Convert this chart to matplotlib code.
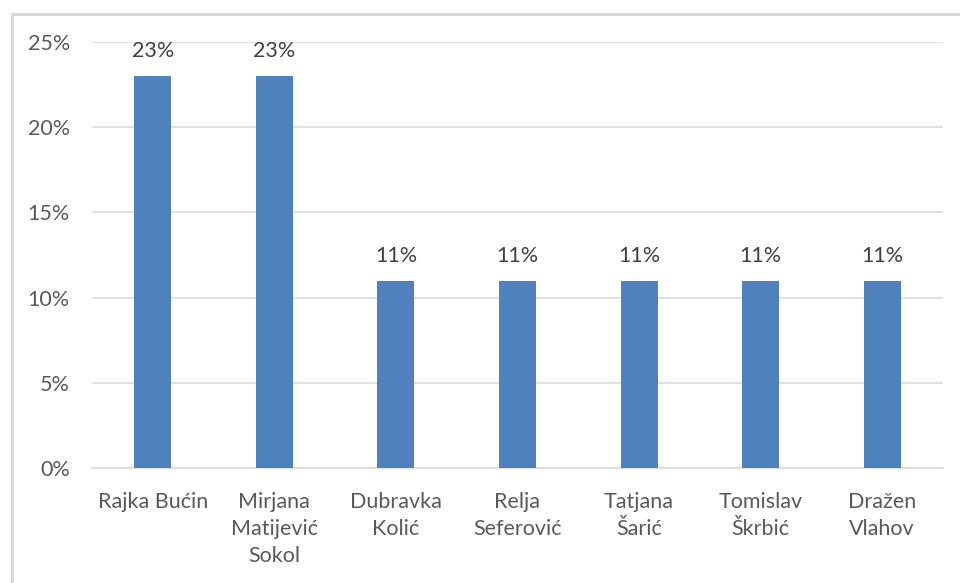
import matplotlib
matplotlib.use("Agg")
import matplotlib.pyplot as plt
from matplotlib.patches import Rectangle
from matplotlib.ticker import FuncFormatter

categories = ["Rajka Bućin", "Mirjana\nMatijević\nSokol", "Dubravka\nKolić", "Relja\nSeferović",
              "Tatjana\nŠarić", "Tomislav\nŠkrbić", "Dražen\nVlahov"]
values = [23, 23, 11, 11, 11, 11, 11]
yticks = [0, 5, 10, 15, 20, 25]

plt.rcParams['font.family'] = ['Lato', 'DejaVu Sans']
W, H = 960, 583
fig = plt.figure(figsize=(W / 100, H / 100), dpi=100)
fig.patch.set_facecolor("white")

# outer chart border (right and bottom edges fall outside the image)
fig.add_artist(Rectangle((11.5 / W, -0.2), 2, 1.2 - 13.5 / H, transform=fig.transFigure,
                         fill=False, edgecolor="#D9D9D9", linewidth=2.2))

ax = fig.add_axes([92 / W, 1 - 468 / H, (943 - 92) / W, (468 - 42) / H])
x = list(range(len(categories)))
bars = ax.bar(x, values, width=0.305, color="#4F81BD", zorder=3)
ax.set_xlim(-0.5, len(categories) - 0.5)
ax.set_ylim(0, 25)
ax.set_yticks(yticks)
ax.yaxis.set_major_formatter(FuncFormatter(lambda v, p: f"{int(v)}%"))
ax.set_xticks(x)
ax.set_xticklabels(categories, linespacing=1.44)
ax.grid(axis="y", color="#D9D9D9", linewidth=1.1, zorder=0)
for s in ["top", "right", "left"]:
    ax.spines[s].set_visible(False)
ax.spines["bottom"].set_color("#D9D9D9")
ax.spines["bottom"].set_linewidth(1.1)
ax.tick_params(axis="both", length=0, colors="#595959", labelsize=15.5)
ax.tick_params(axis="y", pad=16)
ax.tick_params(axis="x", pad=17)

for b, v in zip(bars, values):
    ax.annotate(f"{v}%", (b.get_x() + b.get_width() / 2, v), xytext=(0, 18),
                textcoords="offset points", ha="center", va="center",
                fontsize=15.5, color="#404040")

fig.savefig("out.png", dpi=100, facecolor="white")
